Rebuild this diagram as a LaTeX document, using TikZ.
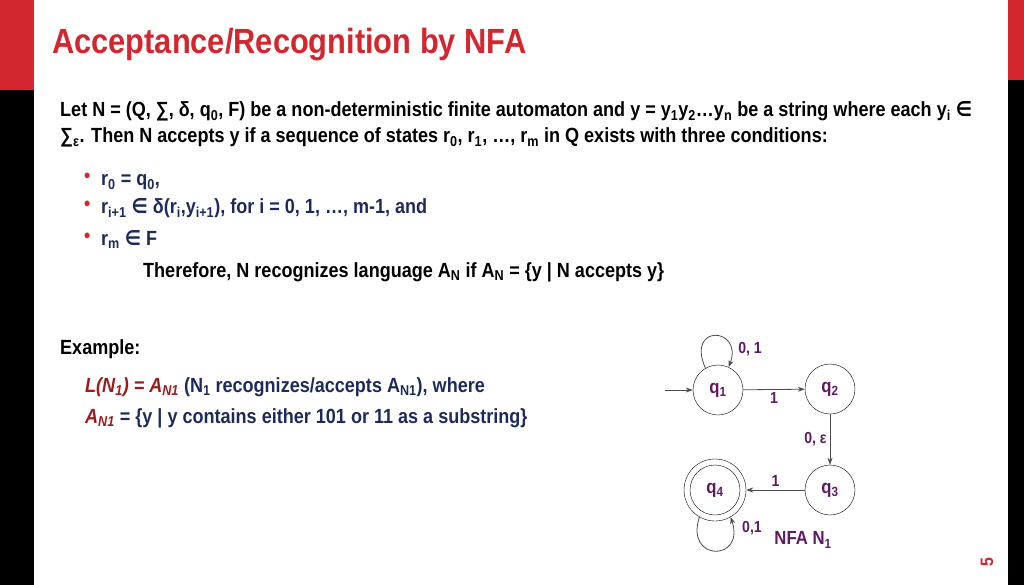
\documentclass[tikz,border=0pt]{standalone}
\usepackage{fontspec}
\setmainfont{Liberation Sans}[FakeStretch=0.88]
\newfontfamily\symfont{DejaVu Sans}[FakeStretch=0.88]
\usetikzlibrary{positioning,arrows.meta}
\definecolor{slidered}{HTML}{D3262E}
\definecolor{navy}{HTML}{1F2A5C}
\definecolor{darkred}{HTML}{9E1B1B}
\definecolor{plum}{HTML}{5E1A63}
\newcommand\sub[1]{\textsubscript{#1}}
\newcommand\elem{{\symfont\char"2208}}
\begin{document}
\begin{tikzpicture}[x=1pt,y=-1pt,font=\bfseries,
  body/.style={anchor=base west,inner sep=0pt,font=\fontsize{20.5}{24}\bfseries},
  bullet/.style={anchor=base west,inner sep=0pt,text=slidered,font=\fontsize{20}{22}\bfseries},
  state/.style={circle,draw,minimum size=50pt,inner sep=0pt,text=plum,font=\fontsize{19}{22}\bfseries},
  final/.style={state,minimum size=62pt},
  lbl/.style={text=plum,font=\fontsize{16}{18}\bfseries,inner sep=1pt},
  edge/.style={draw,-{Stealth[length=7pt,width=5pt]},thick,black!70}]
\useasboundingbox (0,0) rectangle (1024,585);
% side bars
\fill[slidered] (0,0) rectangle (34,90);
\fill[black] (0,90) rectangle (34,585);
\fill[slidered] (1008,0) rectangle (1024,80);
\fill[black] (1008,80) rectangle (1024,585);
\node[rotate=90,text=slidered,font=\fontsize{18}{20}\bfseries] (page) at (987,562) {5};
% title
\node[anchor=base west,inner sep=0pt,text=slidered,font=\fontsize{35}{38}\bfseries] (title) at (52,54) {Acceptance/Recognition by NFA};
% definition
\node[body] (def1) at (60,117) {Let N = (Q, ∑, δ, q\sub{0}, F) be a non-deterministic finite automaton and y = y\sub{1}y\sub{2}…y\sub{n} be a string where each y\sub{i} \elem};
\node[body] (def2) at (60,143) {∑\sub{ε}. Then N accepts y if a sequence of states r\sub{0}, r\sub{1}, …, r\sub{m} in Q exists with three conditions:};
\foreach \y/\txt [count=\i] in {186/{r\sub{0} = q\sub{0},},
    214/{r\sub{i+1} \elem\ δ(r\sub{i},y\sub{i+1}), for i = 0, 1, …, m-1, and},
    245/{r\sub{m} \elem\ F}} {
  \node[bullet] (dot\i) at (84,\y-3) {•};
  \node[body,text=navy] (cond\i) at (101,\y) {\txt};
}
\node[body] (therefore) at (143,277) {Therefore, N recognizes language A\sub{N} if A\sub{N} = \{y | N accepts y\}};
% example
\node[body] (example) at (60,354) {Example:};
\node[body,text=navy] (lang) at (85,392) {\textcolor{darkred}{\itshape L(N\sub{1}) = A\sub{N1}} (N\sub{1} recognizes/accepts A\sub{N1}), where};
\node[body,text=navy] (set) at (85,423) {\textcolor{darkred}{\itshape A\sub{N1}} = \{y | y contains either 101 or 11 as a substring\}};
% automaton
\node[state] (q1) at (718,390) {q\sub{1}};
\node[state] (q2) at (830,389) {q\sub{2}};
\node[state] (q3) at (830,490) {q\sub{3}};
\node[final] (q4) at (715,490) {};
\node[state] at (q4) {q\sub{4}};
\coordinate (start) at (665,390);
\draw[edge] (start) -- (q1);
\draw[edge] (q1) -- node[lbl,below=2pt] {1} (q2);
\draw[edge] (q2) -- node[lbl,left=2pt] {0, ε} (q3);
\draw[edge] (q3) -- node[lbl,above=2pt] {1} (q4);
\draw[edge] (q1.120) .. controls +(-20,-45) and +(15,-40) .. (q1.65);
\draw[edge] (q4.240) .. controls +(-15,45) and +(15,45) .. (q4.300);
\node[lbl] (loop1) at (750,349) {0, 1};
\node[lbl] (loop4) at (752,528) {0,1};
\node[lbl,font=\fontsize{19}{22}\bfseries] (name) at (803,540) {NFA N\sub{1}};
\end{tikzpicture}
\end{document}
